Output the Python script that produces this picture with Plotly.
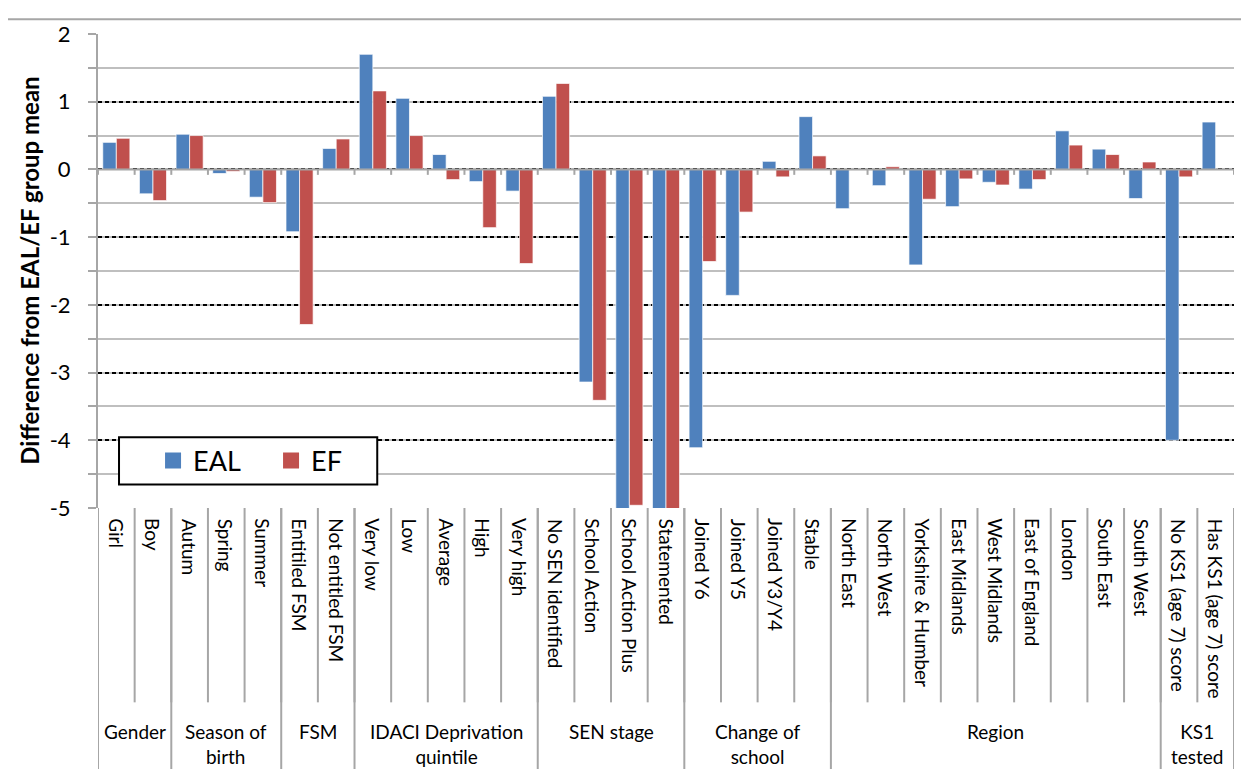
import plotly.graph_objects as go

groups = ["Gender", "Season of<br>birth", "FSM", "IDACI Deprivation<br>quintile", "SEN stage",
          "Change of<br>school", "Region", "KS1<br>tested"]
group_items = [
    ["Girl", "Boy"],
    ["Autum", "Spring", "Summer"],
    ["Entitiled FSM", "Not entitled FSM"],
    ["Very low", "Low", "Average", "High", "Very high"],
    ["No SEN identified", "School Action", "School Action Plus", "Statemented"],
    ["Joined Y6", "Joined Y5", "Joined Y3/Y4", "Stable"],
    ["North East", "North West", "Yorkshire & Humber", "East Midlands", "West Midlands",
     "East of England", "London", "South East", "South West"],
    ["No KS1 (age 7) score", "Has KS1 (age 7) score"],
]
eal = [0.40, -0.36, 0.52, -0.06, -0.41, -0.92, 0.31, 1.70, 1.05, 0.22, -0.18, -0.32,
       1.08, -3.14, -5.3, -5.5, -4.11, -1.86, 0.12, 0.78, -0.58, -0.24, -1.41, -0.55,
       -0.19, -0.29, 0.57, 0.30, -0.43, -4.00, 0.70]
ef = [0.46, -0.46, 0.50, -0.03, -0.49, -2.29, 0.45, 1.16, 0.50, -0.15, -0.86, -1.39,
      1.27, -3.41, -4.96, -5.4, -1.36, -0.63, -0.11, 0.20, 0.0, 0.04, -0.44, -0.14,
      -0.23, -0.15, 0.36, 0.22, 0.11, -0.11, 0.0]
y_ticks = [2, 1, 0, -1, -2, -3, -4, -5]

cats = [c for g in group_items for c in g]
xs = list(range(len(cats)))
FONT = "Lato"
BLUE = "#4F81BD"
RED = "#C0504D"
GRAY = "#A6A6A6"

fig = go.Figure()
fig.add_trace(go.Bar(x=xs, y=eal, name="EAL", showlegend=False,
                     marker=dict(color=BLUE, line=dict(color="rgba(255,255,255,0.7)", width=1))))
fig.add_trace(go.Bar(x=xs, y=ef, name="EF", showlegend=False,
                     marker=dict(color=RED, line=dict(color="rgba(255,255,255,0.7)", width=1))))
# legend entries (square swatches)
for name, col in (("EAL", BLUE), ("EF", RED)):
    fig.add_trace(go.Scatter(x=[None], y=[None], mode="markers", name=name,
                             marker=dict(symbol="square", size=17, color=col)))

shapes = []
annotations = []
n = len(cats)
for i in range(n + 1):
    shapes.append(dict(type="line", xref="x", yref="paper", x0=i - 0.5, x1=i - 0.5, y0=0, y1=-0.41,
                       line=dict(color=GRAY, width=2), layer="above"))
    shapes.append(dict(type="line", xref="x", yref="y", x0=i - 0.5, x1=i - 0.5, y0=0, y1=-0.08,
                       line=dict(color=GRAY, width=2)))
for i, c in enumerate(cats):
    annotations.append(dict(x=i, y=-0.018, xref="x", yref="paper", text=c, textangle=90,
                            showarrow=False, xanchor="center", yanchor="top",
                            font=dict(family=FONT, size=19, color="black")))
start = 0
bounds = [0]
for g, items in zip(groups, group_items):
    end = start + len(items)
    annotations.append(dict(x=(start + end - 1) / 2, y=-0.442, xref="x", yref="paper", text=g,
                            showarrow=False, xanchor="center", yanchor="top",
                            font=dict(family=FONT, size=19, color="black")))
    bounds.append(end)
    start = end
for b in bounds:
    shapes.append(dict(type="line", xref="x", yref="paper", x0=b - 0.5, x1=b - 0.5, y0=0, y1=-0.6,
                       line=dict(color=GRAY, width=2), layer="above"))
# zero line
shapes.append(dict(type="line", xref="paper", yref="y", x0=0, x1=1, y0=0, y1=0,
                   line=dict(color=GRAY, width=2)))
# outer border (top and left)
shapes.append(dict(type="line", xref="paper", yref="paper", x0=-0.082, x1=1.03, y0=1.031, y1=1.031,
                   line=dict(color=GRAY, width=2)))
shapes.append(dict(type="line", xref="paper", yref="paper", x0=-0.082, x1=-0.082, y0=1.031, y1=-0.6,
                   line=dict(color=GRAY, width=2)))
# legend box
shapes.append(dict(type="rect", xref="paper", yref="paper",
                   x0=(119 - 98) / 1135, x1=(377 - 98) / 1135,
                   y0=(508 - 484) / 483, y1=(508 - 436) / 483,
                   fillcolor="white", line=dict(color="black", width=2), layer="above"))

annotations.append(dict(x=-0.061, y=0.5, xref="paper", yref="paper", text="<b>Difference from EAL/EF group mean</b>",
                        textangle=-90, showarrow=False, xanchor="center", yanchor="middle",
                        font=dict(family=FONT, size=24, color="black")))

fig.update_layout(
    width=1249, height=769,
    margin=dict(l=90, r=23, t=17, b=269),
    plot_bgcolor="white", paper_bgcolor="white",
    barmode="group", bargap=0.26, bargroupgap=0,
    font=dict(family=FONT, color="black"),
    showlegend=True,
    legend=dict(orientation="h", x=(153 - 98) / 1135, y=(508 - 460) / 483, xanchor="left", yanchor="middle",
                borderwidth=0, bgcolor="rgba(0,0,0,0)",
                font=dict(family=FONT, size=27), entrywidth=73, entrywidthmode="pixels",
                itemsizing="trace", tracegroupgap=0),
    shapes=shapes, annotations=annotations,
    xaxis=dict(range=[-0.5, n - 0.5], showticklabels=False, showgrid=False, zeroline=False,
               showline=False, ticks=""),
    yaxis=dict(range=[-5, 2], tickvals=y_ticks, ticktext=[str(v) for v in y_ticks],
               showgrid=True, gridcolor="black", griddash="4px,3px", gridwidth=1.5,
               zeroline=False, showline=True, linecolor=GRAY, linewidth=2,
               ticks="outside", ticklen=8, tickcolor=GRAY, tickwidth=2,
               tickfont=dict(family=FONT, size=22), ticklabelstandoff=13,
               minor=dict(dtick=0.5, tick0=0, showgrid=True, gridcolor="#BFBFBF", gridwidth=2,
                          griddash="solid",
                          ticks="outside", ticklen=8, tickcolor=GRAY, tickwidth=2)),
)
fig.write_html("out.html")
